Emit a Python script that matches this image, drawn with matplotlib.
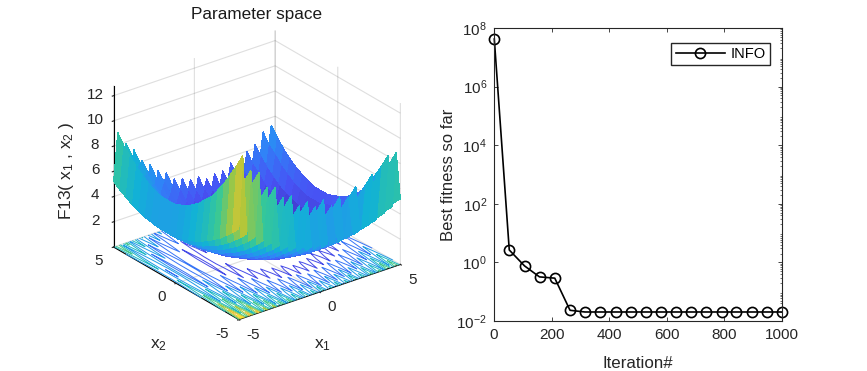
import numpy as np
import matplotlib
matplotlib.use('Agg')
import matplotlib.pyplot as plt
import matplotlib.ticker as mtick
from matplotlib.colors import LinearSegmentedColormap, Normalize

plt.rcParams['font.family'] = ['Liberation Sans', 'DejaVu Sans']
plt.rcParams['mathtext.fontset'] = 'custom'
plt.rcParams['mathtext.rm'] = 'Liberation Sans'
plt.rcParams['mathtext.default'] = 'rm'
plt.rcParams['axes.unicode_minus'] = False

# values
x1_grid = np.linspace(-5, 5, 41)
x2_grid = np.linspace(-5, 5, 21)
f13_rows = [
    [7.2,12.9,6.6,11.5,6.1,11.1,5.6,9.7,5.2,9.5,4.8,8.5,4.5,8.4,4.2,7.4,4.0,7.5,3.8,6.9,3.7,7.2,3.6,6.5,3.6,7.0,3.6,6.7,3.7,7.4,3.8,7.0,4.0,7.9,4.2,7.9,4.5,9.0,4.8,9.0,5.2],
    [6.6,11.8,6.0,10.4,5.5,10.0,5.0,8.6,4.6,8.4,4.2,7.4,3.9,7.3,3.6,6.3,3.4,6.4,3.2,5.8,3.1,6.1,3.0,5.4,3.0,5.9,3.0,5.6,3.1,6.3,3.2,5.9,3.4,6.8,3.6,6.8,3.9,7.9,4.2,7.9,4.6],
    [6.1,10.8,5.5,9.5,5.0,9.0,4.5,7.7,4.1,7.4,3.7,6.5,3.4,6.3,3.1,5.4,2.9,5.4,2.7,4.9,2.6,5.1,2.5,4.5,2.5,4.9,2.5,4.7,2.6,5.3,2.7,5.0,2.9,5.8,3.1,5.9,3.4,6.9,3.7,7.0,4.1],
    [5.6,9.8,5.0,8.6,4.5,8.0,4.0,6.8,3.6,6.4,3.2,5.6,2.9,5.3,2.6,4.5,2.4,4.4,2.2,4.0,2.1,4.1,2.0,3.6,2.0,3.9,2.0,3.8,2.1,4.3,2.2,4.1,2.4,4.8,2.6,5.0,2.9,5.9,3.2,6.1,3.6],
    [5.2,9.0,4.6,7.9,4.1,7.2,3.6,6.1,3.2,5.6,2.8,4.9,2.5,4.5,2.2,3.8,2.0,3.6,1.8,3.3,1.7,3.3,1.6,2.9,1.6,3.1,1.6,3.1,1.7,3.5,1.8,3.4,2.0,4.0,2.2,4.3,2.5,5.1,2.8,5.4,3.2],
    [4.8,8.2,4.2,7.2,3.7,6.4,3.2,5.4,2.8,4.8,2.4,4.2,2.1,3.7,1.8,3.1,1.6,2.8,1.4,2.6,1.3,2.5,1.2,2.2,1.2,2.3,1.2,2.4,1.3,2.7,1.4,2.7,1.6,3.2,1.8,3.6,2.1,4.3,2.4,4.7,2.8],
    [4.5,7.7,3.9,6.6,3.4,5.9,2.9,4.8,2.5,4.3,2.1,3.6,1.8,3.2,1.5,2.5,1.3,2.3,1.1,2.0,1.0,2.0,.9,1.6,.9,1.8,.9,1.8,1.0,2.2,1.1,2.1,1.3,2.7,1.5,3.0,1.8,3.8,2.1,4.1,2.5],
    [4.2,7.1,3.6,6.1,3.1,5.3,2.6,4.3,2.2,3.7,1.8,3.1,1.5,2.6,1.2,2.0,1.0,1.7,.8,1.5,.7,1.4,.6,1.1,.6,1.2,.6,1.3,.7,1.6,.8,1.6,1.0,2.1,1.2,2.5,1.5,3.2,1.8,3.6,2.2],
    [4.0,6.7,3.4,5.7,2.9,4.9,2.4,3.9,2.0,3.3,1.6,2.7,1.3,2.2,1.0,1.6,.8,1.3,.6,1.1,.5,1.0,.4,.7,.4,.8,.4,.9,.5,1.2,.6,1.2,.8,1.7,1.0,2.1,1.3,2.8,1.6,3.2,2.0],
    [3.8,6.3,3.2,5.4,2.7,4.5,2.2,3.6,1.8,2.9,1.4,2.4,1.1,1.8,.8,1.3,.6,.9,.4,.8,.3,.6,.2,.4,.2,.4,.2,.6,.3,.8,.4,.9,.6,1.3,.8,1.8,1.1,2.4,1.4,2.9,1.8],
    [3.7,6.1,3.1,5.2,2.6,4.3,2.1,3.4,1.7,2.7,1.3,2.2,1.0,1.6,.7,1.1,.5,.7,.3,.6,.2,.4,.1,.2,.1,.2,.1,.4,.2,.6,.3,.7,.5,1.1,.7,1.6,1.0,2.2,1.3,2.7,1.7],
    [3.6,5.9,3.0,5.0,2.5,4.1,2.0,3.2,1.6,2.5,1.2,2.0,.9,1.4,.6,.9,.4,.5,.2,.4,.1,.2,0,0,0,0,0,.2,.1,.4,.2,.5,.4,.9,.6,1.4,.9,2.0,1.2,2.5,1.6],
    [3.6,5.9,3.0,5.0,2.5,4.1,2.0,3.2,1.6,2.5,1.2,2.0,.9,1.4,.6,.9,.4,.5,.2,.4,.1,.2,0,0,0,0,0,.2,.1,.4,.2,.5,.4,.9,.6,1.4,.9,2.0,1.2,2.5,1.6],
    [3.6,5.9,3.0,5.0,2.5,4.1,2.0,3.2,1.6,2.5,1.2,2.0,.9,1.4,.6,.9,.4,.5,.2,.4,.1,.2,0,0,0,0,0,.2,.1,.4,.2,.5,.4,.9,.6,1.4,.9,2.0,1.2,2.5,1.6],
    [3.7,6.1,3.1,5.2,2.6,4.3,2.1,3.4,1.7,2.7,1.3,2.2,1.0,1.6,.7,1.1,.5,.7,.3,.6,.2,.4,.1,.2,.1,.2,.1,.4,.2,.6,.3,.7,.5,1.1,.7,1.6,1.0,2.2,1.3,2.7,1.7],
    [3.8,6.3,3.2,5.4,2.7,4.5,2.2,3.6,1.8,2.9,1.4,2.4,1.1,1.8,.8,1.3,.6,.9,.4,.8,.3,.6,.2,.4,.2,.4,.2,.6,.3,.8,.4,.9,.6,1.3,.8,1.8,1.1,2.4,1.4,2.9,1.8],
    [4.0,6.7,3.4,5.7,2.9,4.9,2.4,3.9,2.0,3.3,1.6,2.7,1.3,2.2,1.0,1.6,.8,1.3,.6,1.1,.5,1.0,.4,.7,.4,.8,.4,.9,.5,1.2,.6,1.2,.8,1.7,1.0,2.1,1.3,2.8,1.6,3.2,2.0],
    [4.2,7.1,3.6,6.1,3.1,5.3,2.6,4.3,2.2,3.7,1.8,3.1,1.5,2.6,1.2,2.0,1.0,1.7,.8,1.5,.7,1.4,.6,1.1,.6,1.2,.6,1.3,.7,1.6,.8,1.6,1.0,2.1,1.2,2.5,1.5,3.2,1.8,3.6,2.2],
    [4.5,7.7,3.9,6.6,3.4,5.9,2.9,4.8,2.5,4.3,2.1,3.6,1.8,3.2,1.5,2.5,1.3,2.3,1.1,2.0,1.0,2.0,.9,1.6,.9,1.8,.9,1.8,1.0,2.2,1.1,2.1,1.3,2.7,1.5,3.0,1.8,3.8,2.1,4.1,2.5],
    [4.8,8.2,4.2,7.2,3.7,6.4,3.2,5.4,2.8,4.8,2.4,4.2,2.1,3.7,1.8,3.1,1.6,2.8,1.4,2.6,1.3,2.5,1.2,2.2,1.2,2.3,1.2,2.4,1.3,2.7,1.4,2.7,1.6,3.2,1.8,3.6,2.1,4.3,2.4,4.7,2.8],
    [5.2,9.0,4.6,7.9,4.1,7.2,3.6,6.1,3.2,5.6,2.8,4.9,2.5,4.5,2.2,3.8,2.0,3.6,1.8,3.3,1.7,3.3,1.6,2.9,1.6,3.1,1.6,3.1,1.7,3.5,1.8,3.4,2.0,4.0,2.2,4.3,2.5,5.1,2.8,5.4,3.2],
]
z_ticks = [2, 4, 6, 8, 10, 12]
xy_ticks = [-5, 0, 5]

iterations = [1, 53, 106, 158, 211, 264, 316, 369, 422, 474, 527, 579, 632, 685, 737, 790, 842, 895, 947, 1000]
best_fitness = [4.2e7, 2.65, 0.76, 0.32, 0.29, 0.0232, 0.0203, 0.0203, 0.0203, 0.0203,
                0.0203, 0.0203, 0.0203, 0.0203, 0.0203, 0.0203, 0.0203, 0.0203, 0.0203, 0.0203]

parula = LinearSegmentedColormap.from_list('parula', [
    (0.2422, 0.1504, 0.6603), (0.2810, 0.3228, 0.9579), (0.1786, 0.5289, 0.9682),
    (0.0689, 0.6948, 0.8394), (0.2161, 0.7843, 0.5923), (0.6720, 0.7793, 0.2227),
    (0.9970, 0.7659, 0.2199), (0.9769, 0.9839, 0.0805)])
norm = Normalize(0, 12.8)

W, H = 867, 371
fig = plt.figure(figsize=(8.67, 3.71), dpi=100)

# left: surface with contours on the floor
ax1 = fig.add_axes([87 / W, 26 / H, 331 / W, 331 / H], projection='3d', computed_zorder=False)
ax1.set_proj_type('ortho')
ax1.view_init(elev=26.4, azim=-127.5)
ax1.set_box_aspect((1, 1.01, 0.885))

X, Y = np.meshgrid(x1_grid, x2_grid)
Z = np.array(f13_rows)
ax1.contour(X, Y, Z, levels=9, zdir='z', offset=0, cmap=parula, norm=norm, linewidths=0.7, zorder=1)
ax1.plot_surface(X, Y, Z, rstride=1, cstride=1, cmap=parula, norm=norm, linewidth=0,
                 antialiased=False, shade=False, zorder=2)

ax1.set_xlim(-5, 5, view_margin=0)
ax1.set_ylim(-5, 5, view_margin=0)
ax1.set_zlim(0, 12.8, view_margin=0)
ax1.set_xticks(xy_ticks)
ax1.set_yticks(xy_ticks)
ax1.set_zticks(z_ticks)
ax1.tick_params(labelsize=11, colors='#262626', pad=0)
for axis in (ax1.xaxis, ax1.yaxis, ax1.zaxis):
    axis.set_pane_color((1, 1, 1, 0))
    axis.pane.set_edgecolor((1, 1, 1, 0))
    axis._axinfo['grid']['color'] = (0.15, 0.15, 0.15, 0.15)
    axis._axinfo['grid']['linewidth'] = 0.8
    axis._axinfo['axisline']['color'] = (0.15, 0.15, 0.15, 1)
    axis._axinfo['tick']['inward_factor'] = 0.1
    axis._axinfo['tick']['outward_factor'] = 0.0
for lbl in ax1.get_xticklabels():
    lbl.set_ha('left')
    lbl.set_va('center')
for lbl in ax1.get_yticklabels():
    lbl.set_ha('right')
    lbl.set_va('center')
for lbl in ax1.get_zticklabels():
    lbl.set_va('center')

fig.text(256.5 / W, 1 - 15 / H, 'Parameter space', fontsize=12.3, color='#1a1a1a', ha='center', va='center')
fig.text(67 / W, 1 - 171 / H, 'F13( $x_1$ , $x_2$ )', fontsize=12.5, color='#262626', rotation=90, ha='center', va='center')
fig.text(323 / W, 1 - 345 / H, '$x_1$', fontsize=12.5, color='#262626', ha='center', va='center')
fig.text(158 / W, 1 - 345 / H, '$x_2$', fontsize=12.5, color='#262626', ha='center', va='center')

# right: convergence curve
ax2 = fig.add_axes([494 / W, (H - 321) / H, 288 / W, 293 / H])
ax2.semilogy(iterations, best_fitness, color='black', linewidth=1.2, marker='o', markersize=7.3,
             markerfacecolor='none', markeredgewidth=1.2, label='INFO', clip_on=False)
ax2.set_xlim(0, 1000)
ax2.set_ylim(1e-2, 1e8)
ax2.set_xticks(range(0, 1001, 200))
ax2.set_yticks([1e-2, 1e0, 1e2, 1e4, 1e6, 1e8])
ax2.yaxis.set_minor_locator(mtick.LogLocator(base=10, subs=range(2, 10), numticks=12))
ax2.yaxis.set_minor_formatter(mtick.NullFormatter())
ax2.tick_params(which='major', direction='in', length=3, width=0.6, top=True, right=True, labelsize=11, colors='#262626', pad=5)
ax2.tick_params(which='minor', direction='in', length=1.5, width=0.4, right=True, left=False)
for spine in ax2.spines.values():
    spine.set_linewidth(0.8)
    spine.set_color('#262626')
ax2.set_xlabel('Iteration#', fontsize=12.2, color='#262626', labelpad=10)
ax2.set_ylabel('Best fitness so far', fontsize=12, color='#262626', labelpad=0)
ax2.legend(loc='upper right', bbox_to_anchor=(0.96, 0.95), fancybox=False, framealpha=1, edgecolor='#262626',
           fontsize=10.5, handlelength=3.4, handletextpad=0.4, borderpad=0.3, borderaxespad=0)

fig.savefig('out.png', dpi=100)
